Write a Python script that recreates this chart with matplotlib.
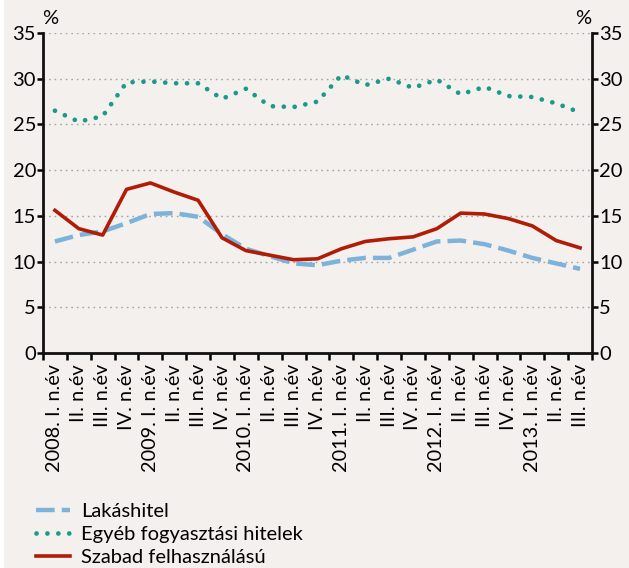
import numpy as np
import matplotlib.pyplot as plt
from matplotlib.patches import Rectangle

plt.rcParams['font.family'] = ['Lato', 'DejaVu Sans']

quarters = ['2008. I. n.év', 'II. n.év', 'III. n.év', 'IV. n.év',
            '2009. I. n.év', 'II. n.év', 'III. n.év', 'IV. n.év',
            '2010. I. n.év', 'II. n.év', 'III. n.év', 'IV. n.év',
            '2011. I. n.év', 'II. n.év', 'III. n.év', 'IV. n.év',
            '2012. I. n.év', 'II. n.év', 'III. n.év', 'IV. n.év',
            '2013. I. n.év', 'II. n.év', 'III. n.év']

lakashitel = [12.2, 12.9, 13.3, 14.2, 15.2, 15.3, 14.9, 13.0, 11.4, 10.6, 9.8, 9.6,
              10.1, 10.4, 10.4, 11.3, 12.2, 12.3, 11.9, 11.2, 10.4, 9.8, 9.2]
egyeb = [26.5, 25.3, 25.9, 29.6, 29.7, 29.5, 29.5, 27.8, 28.9, 27.0, 26.9, 27.5,
         30.4, 29.3, 30.0, 29.0, 29.9, 28.3, 29.1, 28.1, 28.0, 27.3, 26.3]
szabad = [15.6, 13.6, 12.9, 17.9, 18.6, 17.6, 16.7, 12.6, 11.2, 10.7, 10.2, 10.3,
          11.4, 12.2, 12.5, 12.7, 13.6, 15.3, 15.2, 14.7, 13.9, 12.3, 11.5]

bg = '#f3f0ed'
fig = plt.figure(figsize=(6.29, 5.68), dpi=100, facecolor='white')
fig.patches.append(Rectangle((4 / 629, 0), 1, 1, transform=fig.transFigure,
                             facecolor=bg, edgecolor='none', zorder=-10))

ax = fig.add_axes([43 / 629, 1 - 353 / 568, 549 / 629, 320 / 568])
ax.set_facecolor(bg)

x = np.arange(len(quarters))
ax.plot(x, lakashitel, color='#7db3da', lw=3.2, linestyle=(0, (4.2, 1.6)),
        label='Lakáshitel', zorder=3)
ax.plot(x, egyeb, color='#1a9a89', lw=3.4, linestyle=(0, (0.01, 2.3)),
        dash_capstyle='round', label='Egyéb fogyasztási hitelek', zorder=3)
ax.plot(x, szabad, color='#b01c05', lw=2.6, label='Szabad felhasználású', zorder=4)

ax.set_xlim(-0.5, len(quarters) - 0.5)
ax.set_ylim(0, 35)
ax.set_yticks(np.arange(0, 36, 5))
ax.yaxis.grid(True, color='#a5a5a5', linestyle=(0, (1.2, 2.8)), lw=1.0)
ax.set_axisbelow(True)

ax.spines['top'].set_visible(False)
for s in ['left', 'right', 'bottom']:
    ax.spines[s].set_linewidth(2.0)
    ax.spines[s].set_color('#111111')

ax.tick_params(axis='y', which='both', left=True, right=True, labelleft=True,
               labelright=True, direction='out', length=4, width=1.8,
               labelsize=14.5, pad=1)

ax.set_xticks(x)
ax.set_xticklabels(quarters, rotation=90, fontsize=14.3)
ax.set_xticks(np.arange(-0.5, len(quarters), 1), minor=True)
ax.tick_params(axis='x', which='major', length=0, pad=8)
ax.tick_params(axis='x', which='minor', length=5, width=1.8, direction='out')

fig.text(50 / 629, 1 - 19 / 568, '%', fontsize=14.5, ha='center', va='center')
fig.text(583 / 629, 1 - 19 / 568, '%', fontsize=14.5, ha='center', va='center')

fig.legend(loc='upper left', bbox_to_anchor=(36 / 629, 1 - 503 / 568),
           frameon=False, fontsize=14.5, handlelength=1.7, handletextpad=0.55,
           labelspacing=0.3, borderaxespad=0, borderpad=0)

fig.savefig('out.png', dpi=100, facecolor=fig.get_facecolor())
